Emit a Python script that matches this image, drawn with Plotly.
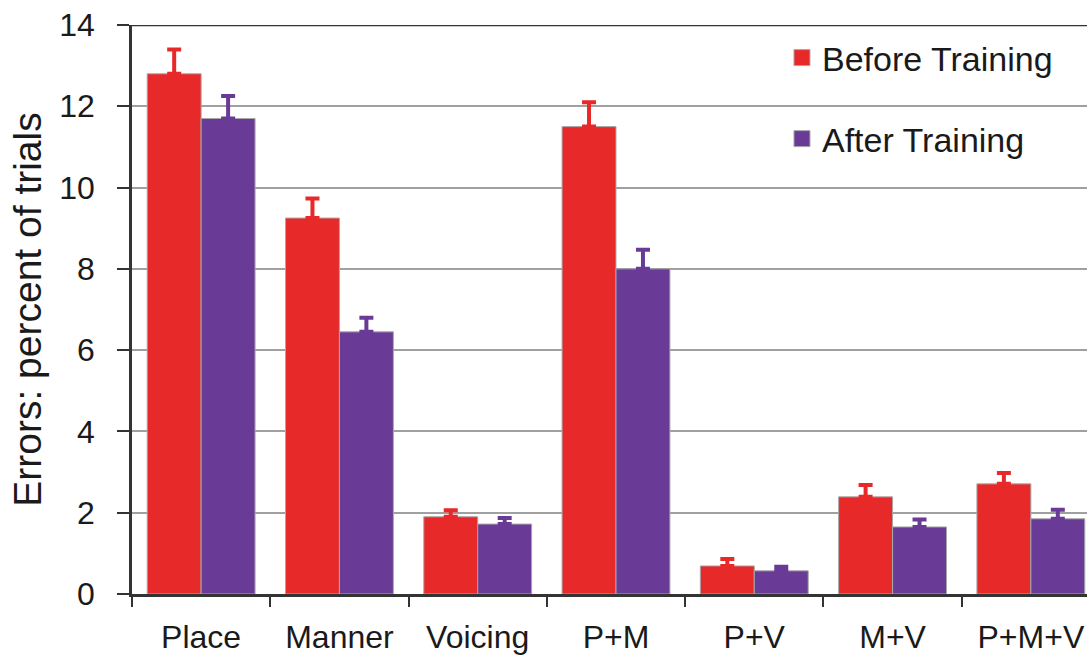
import plotly.graph_objects as go

categories = ["Place", "Manner", "Voicing", "P+M", "P+V", "M+V", "P+M+V"]
before_vals = [12.8, 9.25, 1.9, 11.5, 0.69, 2.39, 2.71]
before_err = [0.6, 0.48, 0.16, 0.6, 0.17, 0.29, 0.27]
after_vals = [11.7, 6.45, 1.72, 8.0, 0.57, 1.65, 1.85]
after_err = [0.55, 0.35, 0.15, 0.47, 0.1, 0.18, 0.22]
y_ticks = [0, 2, 4, 6, 8, 10, 12, 14]

RED = "#e8292a"
PURPLE = "#6a3b96"
FONT = "Liberation Sans, Arial, sans-serif"
INK = "#1a1a1a"
OUTLINE = "#a8a8a8"

fig = go.Figure()
for name, vals, errs, color, leg in [
    ("Before Training", before_vals, before_err, RED, "legend"),
    ("After Training", after_vals, after_err, PURPLE, "legend2"),
]:
    fig.add_trace(go.Bar(
        name=name, x=categories, y=vals, showlegend=False,
        marker=dict(color=color, line=dict(color=OUTLINE, width=1)),
        error_y=dict(type="data", array=errs, symmetric=False,
                     arrayminus=[0] * len(errs),
                     color=color, thickness=4, width=7),
    ))
    # legend-only entry with a larger square swatch
    fig.add_trace(go.Scatter(
        name=name, x=[None], y=[None], mode="markers", showlegend=True,
        marker=dict(symbol="square", size=16, color=color,
                    line=dict(color=OUTLINE, width=1)),
        legend=leg,
    ))

# dark frame line along the top of the value axis
fig.add_shape(type="line", xref="paper", yref="y", x0=0, x1=1, y0=14, y1=14,
              line=dict(color="#333333", width=2.5), layer="above")

legend_common = dict(font=dict(family=FONT, size=34, color=INK),
                     bgcolor="rgba(0,0,0,0)", xanchor="left", yanchor="middle",
                     itemclick=False, itemsizing="trace")

fig.update_layout(
    width=1087, height=658,
    margin=dict(l=132, r=0, t=25, b=64),
    paper_bgcolor="white", plot_bgcolor="white",
    font=dict(family=FONT, size=32, color=INK),
    showlegend=True,
    barmode="group", bargap=0.22, bargroupgap=0.0,
    legend=dict(x=0.6806, y=0.942, **legend_common),
    legend2=dict(x=0.6806, y=0.7996, **legend_common),
    xaxis=dict(
        range=[-0.5, 6.406], tickson="boundaries", ticks="outside",
        ticklen=10, tickwidth=2, tickcolor="#333333",
        showline=True, linecolor="#333333", linewidth=2.5,
        tickfont=dict(family=FONT, size=32, color=INK),
        ticklabelstandoff=13, automargin=False,
        showgrid=False,
    ),
    yaxis=dict(
        range=[0, 14], tickvals=y_ticks, ticks="outside",
        ticklen=12, tickwidth=2, tickcolor="#333333",
        showline=True, linecolor="#333333", linewidth=2.5,
        showgrid=True, gridcolor="#a0a0a0", gridwidth=1.5,
        zeroline=False, automargin=False,
        tickfont=dict(family=FONT, size=32, color=INK),
        ticklabelstandoff=16,
        title=dict(text="Errors: percent of trials", standoff=6,
                   font=dict(family=FONT, size=39, color=INK)),
    ),
)

fig.write_html("out.html")
